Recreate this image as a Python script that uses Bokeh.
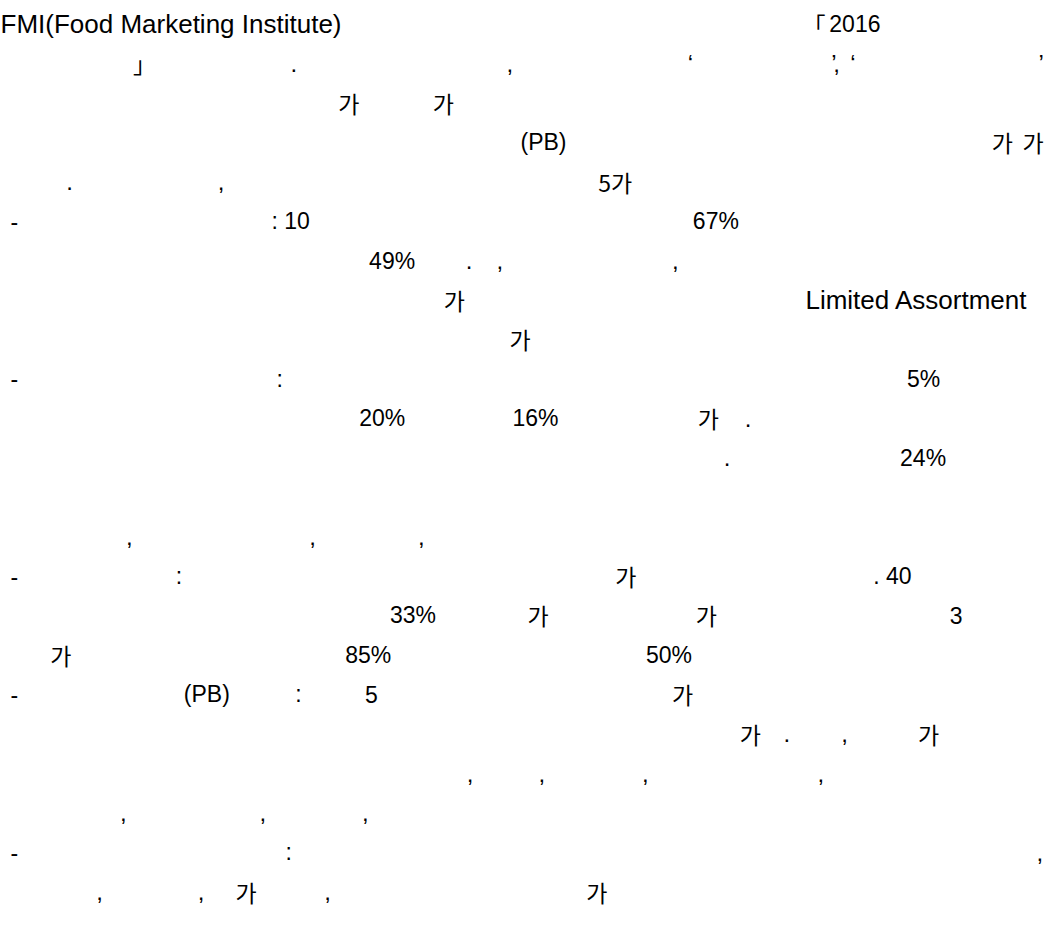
from bokeh.plotting import figure
from bokeh.models import ColumnDataSource, Range1d
from bokeh.core.properties import value
from bokeh.embed import file_html
from bokeh.resources import INLINE

# ---- content: text fragments, the line they sit on, and their column ----
frag_text = [
    "FMI(Food Marketing Institute)", "\u300c", "2016",
    "\u300d", ".", ",", "\u2018", "\u2019", ",", "\u2018", "\u2019",
    "\uac00", "\uac00",
    "(PB)", "\uac00", "\uac00",
    ".", ",", "5\uac00",
    "-", ": 10", "67%",
    "49%", ".", ",", ",",
    "\uac00", "Limited Assortment",
    "\uac00",
    "-", ":", "5%",
    "20%", "16%", "\uac00", ".",
    ".", "24%",
    ",", ",", ",",
    "-", ":", "\uac00", ". 40",
    "33%", "\uac00", "\uac00", "3",
    "\uac00", "85%", "50%",
    "-", "(PB)", ":", "5", "\uac00",
    "\uac00", ".", ",", "\uac00",
    ",", ",", ",", ",",
    ",", ",", ",",
    "-", ":", ",",
    ",", ",", "\uac00", ",", "\uac00",
]
frag_line = [
    1, 1, 1,
    2, 2, 2, 2, 2, 2, 2, 2,
    3, 3,
    4, 4, 4,
    5, 5, 5,
    6, 6, 6,
    7, 7, 7, 7,
    8, 8,
    9,
    10, 10, 10,
    11, 11, 11, 11,
    12, 12,
    14, 14, 14,
    15, 15, 15, 15,
    16, 16, 16, 16,
    17, 17, 17,
    18, 18, 18, 18, 18,
    19, 19, 19, 19,
    20, 20, 20, 20,
    21, 21, 21,
    22, 22, 22,
    23, 23, 23, 23, 23,
]
frag_col = [
    2, 807, 834,
    135, 293, 510, 692, 836, 838, 855, 1044,
    341, 436,
    524, 997, 1028,
    68, 220, 602,
    12, 274, 697,
    372, 469, 500, 676,
    447, 810,
    513,
    12, 279, 912,
    362, 516, 702, 749,
    728, 905,
    128, 312, 421,
    12, 178, 619, 878,
    393, 531, 700, 955,
    52, 348, 650,
    12, 186, 298, 368, 676,
    744, 788, 846, 923,
    470, 542, 646, 822,
    122, 262, 365,
    12, 288, 1042,
    98, 200, 238, 327, 590,
]

# ---- layout / style ----
FIRST_BASELINE = 27
LINE_STEP = 40.3


def kind(t):
    if "\uac00" in t or t in ("\u300c", "\u300d"):
        return "hangul"
    if t in ("FMI(Food Marketing Institute)", "Limited Assortment"):
        return "latin"
    if t in (",", ".", "\u2018", "\u2019"):
        return "punct"
    return "narrow"


fonts = {
    "hangul": "Noto Sans CJK KR",
    "latin": "Liberation Sans",
    "punct": "Liberation Sans",
    "narrow": "Liberation Sans Narrow, Arial Narrow, Liberation Sans",
}
sizes = {"hangul": "23px", "latin": "26px", "punct": "24px", "narrow": "23px"}

p = figure(width=1046, height=911, output_backend="svg", toolbar_location=None,
           x_range=Range1d(2, 1052), y_range=Range1d(934, 3),
           min_border=0, outline_line_color=None, background_fill_color="white",
           border_fill_color="white")
p.xaxis.visible = False
p.yaxis.visible = False
p.xgrid.visible = False
p.ygrid.visible = False

for k in ("latin", "narrow", "punct", "hangul"):
    xs, ys, ts = [], [], []
    for t, ln, c in zip(frag_text, frag_line, frag_col):
        if kind(t) == k:
            xs.append(c)
            ys.append(FIRST_BASELINE + (ln - 1) * LINE_STEP)
            ts.append(t)
    src = ColumnDataSource(dict(x=xs, y=ys, text=ts))
    p.text(x="x", y="y", text="text", source=src, text_font=value(fonts[k]),
           text_font_size=sizes[k], text_color="#000000",
           text_align="left", text_baseline="alphabetic")

open("out.html", "w").write(file_html(p, INLINE))
